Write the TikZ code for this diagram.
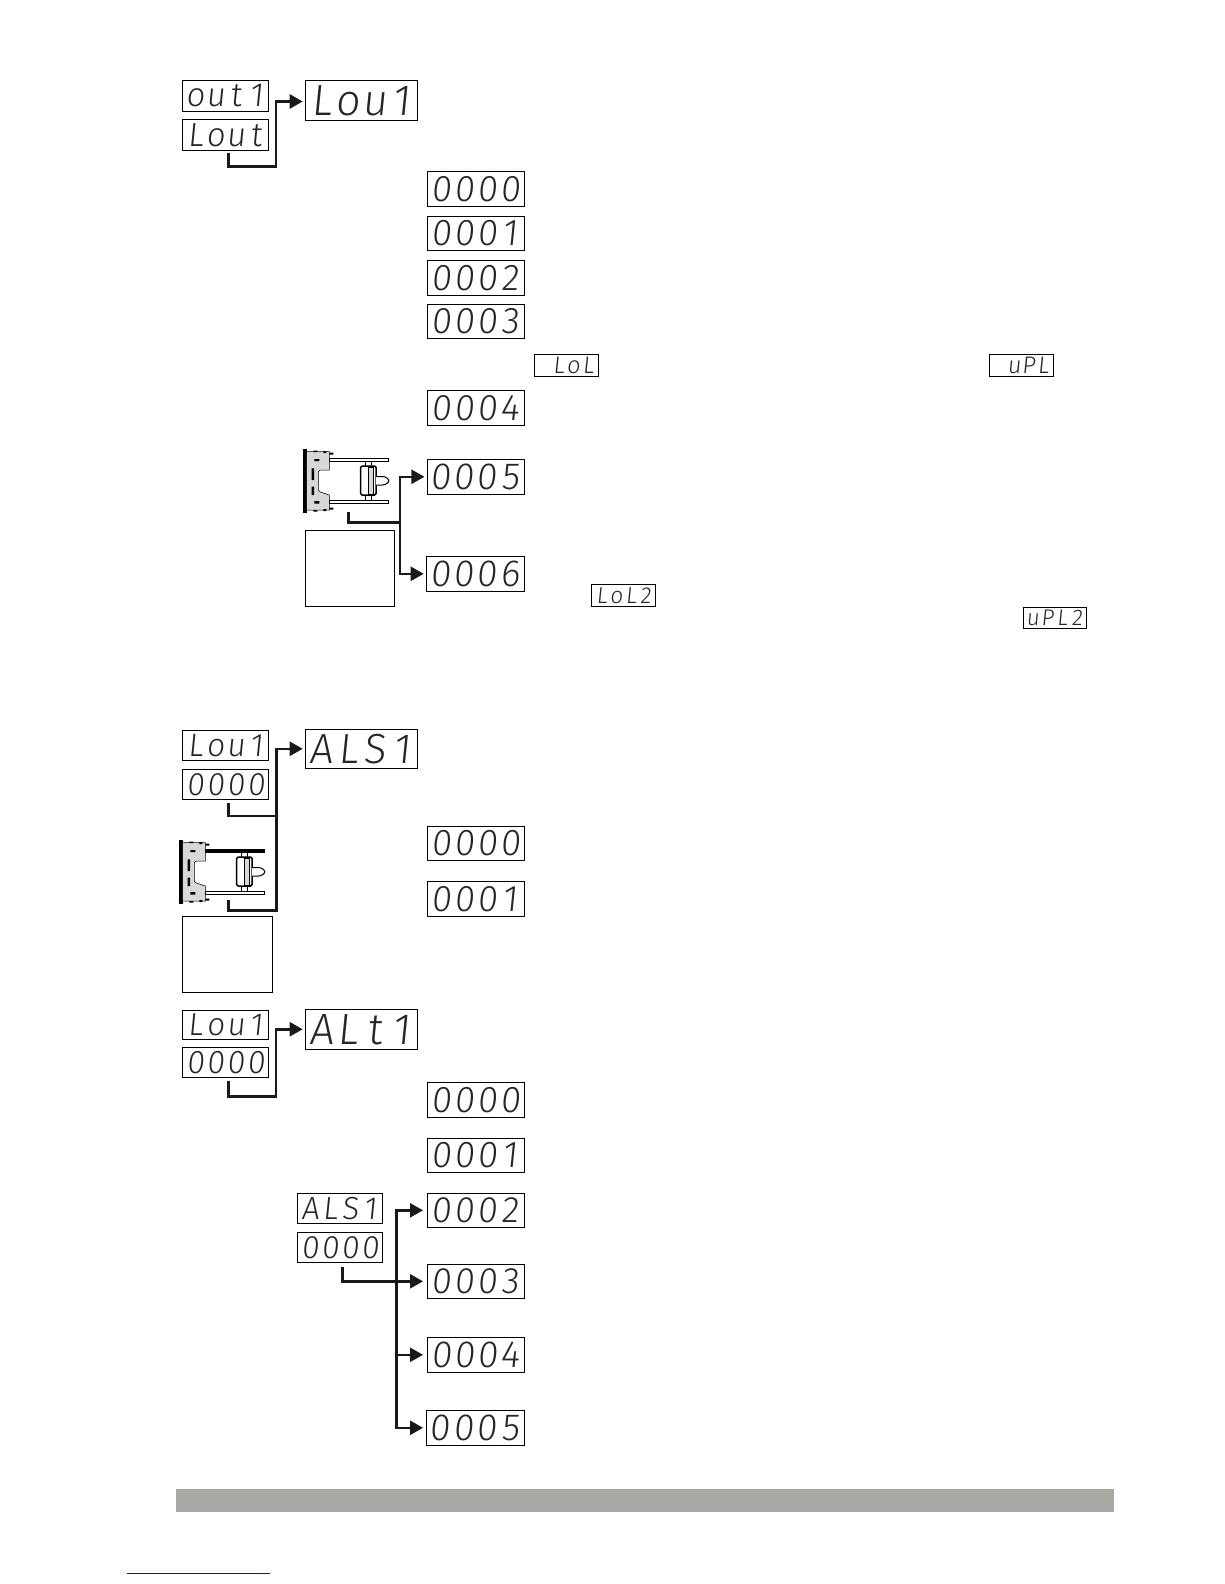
\documentclass[tikz,border=0pt]{standalone}
\usepackage{fontspec}
\usetikzlibrary{arrows.meta,calc}
\newfontfamily\segfont[FakeSlant=0.1,FakeStretch=0.98]{Fira Sans Light}
\newlength{\segcell}
\newcommand{\segcells}[4]{\makebox[\segcell][c]{\vphantom{0}#1}\makebox[\segcell][c]{#2}\makebox[\segcell][c]{#3}\makebox[\segcell][c]{#4}}
% name, x0, y0, x1, y1, four characters
\newcommand{\disp}[9]{%
  \pgfmathsetmacro\dw{#4-#2}\pgfmathsetmacro\dh{#5-#3}\pgfmathsetmacro\fs{\dh*1.08}%
  \pgfmathsetlength{\segcell}{(\dw-5)/4*1pt}%
  \node[dispbox,minimum width=\dw pt,minimum height=\dh pt] (#1) at ({(#2+#4)/2},{(#3+#5)/2})
    {\fontsize{\fs pt}{\fs pt}\selectfont\segfont\segcells{#6}{#7}{#8}{#9}};}
% x, y, fill of upper rail
\newcommand{\device}[3]{%
  \begin{scope}[shift={(#1,#2)}]
    \fill[black] (0,0) rectangle (3.3,64.3);
    \draw[line width=.5pt,fill=devgray] (3.3,2.7) -- (26,2.7) -- (26,21) -- (17,21) -- (15,23) -- (15,41) -- (17,43) -- (26,46) -- (26,61) -- (3.3,61) -- cycle;
    \fill[black] (11,10) rectangle (16,12) (11,52) rectangle (16,54.5) (8.3,19.3) rectangle (10.7,31) (8.3,37.7) rectangle (10.7,46);
    \fill[black] (20,2) rectangle (23,4) (26,3.5) rectangle (30,5.5) (20,60) rectangle (23,62) (26,58.5) rectangle (30,60.5) (10,1.5) rectangle (14,3) (10,61) rectangle (14,62.5);
    \draw[line width=.8pt,fill=#3] (26,9.5) rectangle (85.5,12.3);
    \draw[line width=.8pt,fill=white] (26,51.5) rectangle (85.5,54.3);
    \draw[line width=.9pt,fill=white] (61.7,12) rectangle (68,17) (61.7,46) rectangle (68,51.5);
    \draw[line width=1.5pt,fill=white,rounded corners=1.5pt] (57.3,17) rectangle (72.7,46);
    \draw[line width=.8pt,fill=devgray] (65,18) rectangle (70,45);
    \draw[line width=1pt,fill=white] (72.7,27.5) -- (79,27.5) .. controls (83,27.5) and (85.5,30.5) .. (85.5,31.8) .. controls (85.5,33) and (83,36) .. (79,36) -- (72.7,36);
  \end{scope}}
\tikzset{
  dispbox/.style={draw=black,line width=.8pt,fill=white,inner sep=0pt,outer sep=0pt,text=black!85},
  blankbox/.style={draw=black,line width=.6pt,fill=white,inner sep=0pt,outer sep=0pt},
  conn/.style={draw=black!90,line width=2.5pt,line join=miter},
  arrowconn/.style={conn,-{Triangle[length=13pt,width=14pt]}}
}
\definecolor{devgray}{HTML}{D9D8D6}
\definecolor{bandgray}{HTML}{A9A8A5}
\definecolor{linkblue}{HTML}{1A1A80}
\begin{document}
\begin{tikzpicture}[x=1pt,y=-1pt]
\useasboundingbox (0,0) rectangle (1224,1584);
\fill[white] (0,0) rectangle (1224,1584);

% first group
\disp{aout}{182.7}{80.3}{268.7}{111.3}{o}{u}{t}{1}
\disp{alout}{182.7}{119.7}{268.7}{150.7}{L}{o}{u}{t}
\disp{alou}{305.3}{80.3}{417.7}{120.7}{L}{o}{u}{1}
\coordinate (a1) at (276,166.7);
\draw[arrowconn] ([xshift=2.6pt,yshift=-2pt]alout.south) |- (a1) |- ([xshift=-2.6pt,yshift=-1pt]alou.west);

\disp{b0}{427}{171.7}{524.3}{206}{0}{0}{0}{0}
\disp{b1}{427}{216}{524.3}{250.5}{0}{0}{0}{1}
\disp{b2}{427}{260.6}{524.3}{295}{0}{0}{0}{2}
\disp{b3}{427}{304}{524.3}{338.3}{0}{0}{0}{3}
\disp{blol}{534}{354.5}{598}{376.7}{}{L}{o}{L}
\disp{bupl}{989.7}{354.5}{1053}{376.7}{}{u}{P}{L}
\disp{b4}{427}{390.8}{524.3}{425}{0}{0}{0}{4}

\device{303.3}{449}{white}
\disp{b5}{427}{459.3}{524.3}{494.3}{0}{0}{0}{5}
\disp{b6}{426.3}{556.3}{524.3}{591.3}{0}{0}{0}{6}
\node[blankbox,minimum width=89pt,minimum height=76pt] (bblank) at (349.8,568.3) {};
\coordinate (btap) at (348.3,511.7);
\coordinate (bj) at (400,522.3);
\draw[conn] (btap) |- (bj);
\draw[arrowconn] (bj) |- ([xshift=-2.6pt]b5.west);
\draw[arrowconn] (bj) |- ([xshift=-2.6pt]b6.west);
\disp{blol2}{591.8}{584.7}{655.4}{606}{L}{o}{L}{2}
\disp{bupl2}{1023}{607}{1086.7}{628}{u}{P}{L}{2}

% second group
\disp{clou}{182.7}{730.3}{268.7}{760.3}{L}{o}{u}{1}
\disp{c00}{182.7}{769.3}{268.7}{799.3}{0}{0}{0}{0}
\disp{cals}{305.3}{729.3}{417.7}{768.3}{A}{L}{S}{1}
\device{179.3}{840}{black}
\node[blankbox,minimum width=90pt,minimum height=76pt] (cblank) at (227.7,954.3) {};
\coordinate (ctap) at (228.3,900.3);
\coordinate (cj1) at (276.7,816);
\coordinate (cj2) at (276.7,910.3);
\draw[conn] ([xshift=2.6pt,yshift=-4pt]c00.south) |- (cj1);
\draw[arrowconn] (ctap) |- (cj2) |- ([xshift=-2.6pt]cals.west);
\disp{c0}{427}{826}{524.3}{860.5}{0}{0}{0}{0}
\disp{c1}{427}{881.7}{524.3}{916}{0}{0}{0}{1}

% third group
\disp{dlou}{182.7}{1010}{268.7}{1039.5}{L}{o}{u}{1}
\disp{d00}{182.7}{1047.3}{268.7}{1077.6}{0}{0}{0}{0}
\disp{dalt}{305.3}{1009}{417.7}{1049.5}{A}{L}{t}{1}
\coordinate (d1) at (276,1096.7);
\draw[arrowconn] ([xshift=2.6pt,yshift=-3pt]d00.south) |- (d1) |- ([xshift=-2.6pt]dalt.west);
\disp{d0}{427}{1082.6}{524.3}{1117}{0}{0}{0}{0}
\disp{d1b}{427}{1138}{524.3}{1172.5}{0}{0}{0}{1}
\disp{dals}{297.7}{1193.7}{382.7}{1223.3}{A}{L}{S}{1}
\disp{d000}{297.7}{1232.3}{382.7}{1262.3}{0}{0}{0}{0}
\disp{d2}{427.3}{1193.3}{524.3}{1227.3}{0}{0}{0}{2}
\disp{d3}{427.3}{1264.3}{524.3}{1298.3}{0}{0}{0}{3}
\disp{d4}{427.3}{1337.3}{524.3}{1372.3}{0}{0}{0}{4}
\disp{d5}{426}{1410.3}{524.3}{1445.3}{0}{0}{0}{5}
\coordinate (dj) at (396.3,1281.3);
\draw[conn] ([xshift=2.3pt,yshift=-4.7pt]d000.south) |- (dj);
\draw[arrowconn] (dj) |- ([xshift=-4.3pt]d2.west);
\draw[arrowconn] (dj) -- ([xshift=-4.3pt]d3.west);
\draw[arrowconn] (dj) |- ([xshift=-4.3pt]d4.west);
\draw[arrowconn] (dj) |- ([xshift=-3pt]d5.west);

% footer
\fill[bandgray] (175.7,1488.6) rectangle (1114,1512);
\draw[linkblue,line width=1pt] (127,1573.5) -- (269.6,1573.5);
\end{tikzpicture}
\end{document}
